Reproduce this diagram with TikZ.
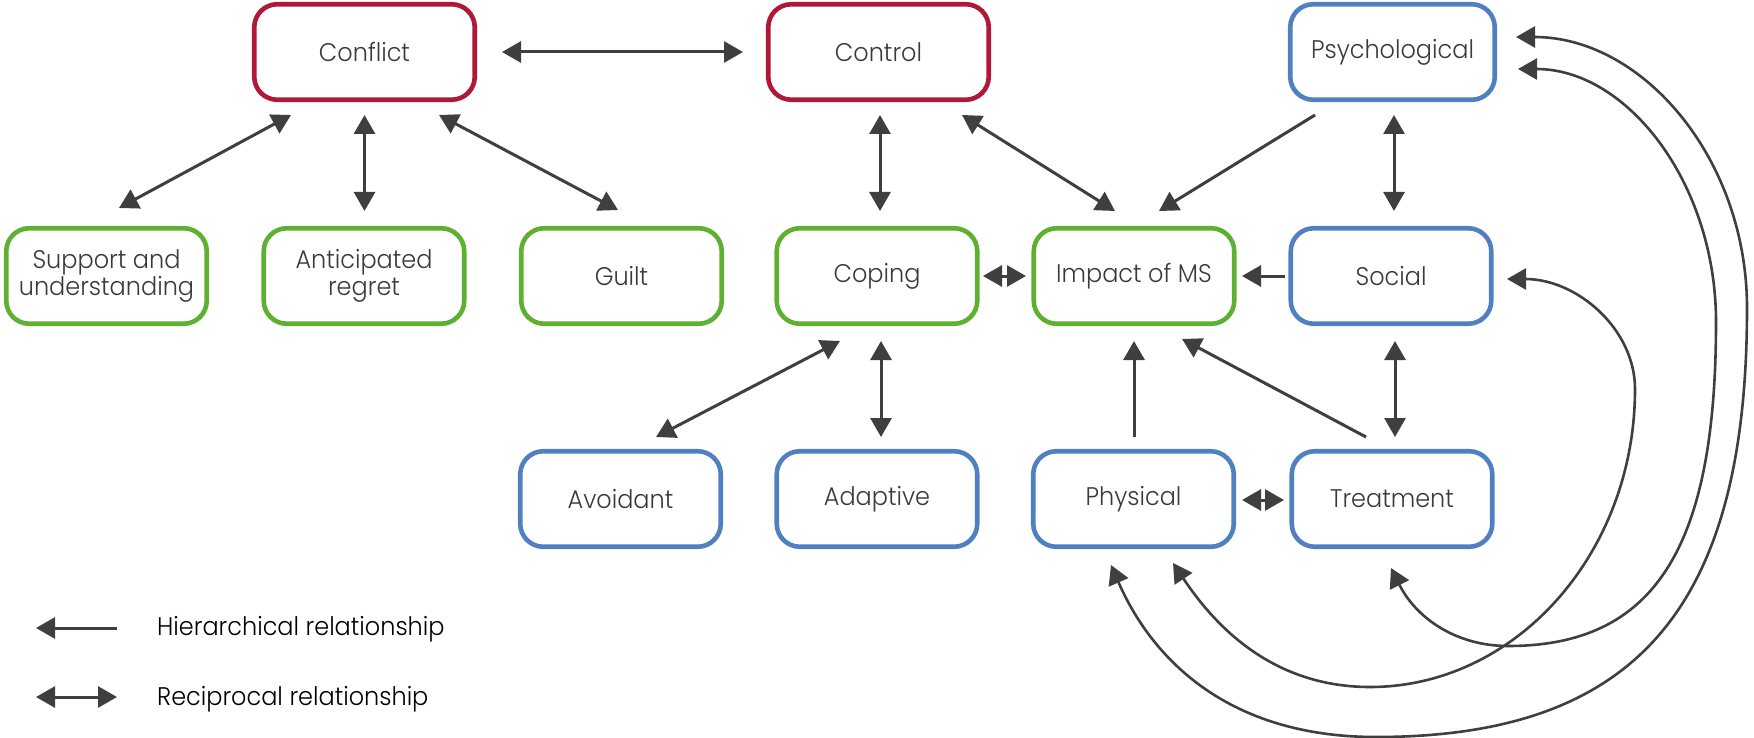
\documentclass[tikz,border=0pt]{standalone}
\usepackage{fontspec}
\setmainfont{Poppins Light}[FakeStretch=0.94]
\usetikzlibrary{arrows.meta,calc}
\definecolor{cred}{HTML}{AF1937}
\definecolor{cgreen}{HTML}{5EB032}
\definecolor{cblue}{HTML}{5080C0}
\definecolor{txt}{HTML}{3A3A3A}
\definecolor{arr}{HTML}{3F3F3F}
\tikzset{
  box/.style={draw, rounded corners=23pt, line width=4.6pt, minimum width=200.5pt,
    minimum height=95.5pt, inner sep=0pt, align=center, text=txt,
    font=\fontsize{25.5}{27}\selectfont},
  redbox/.style={box, draw=cred},
  greenbox/.style={box, draw=cgreen},
  bluebox/.style={box, draw=cblue},
  conn/.style={draw=arr, line width=3pt},
  curv/.style={draw=arr, line width=2.6pt},
  both/.style={{Triangle[length=19pt,width=21pt]}-{Triangle[length=19pt,width=21pt]}},
  single/.style={-{Triangle[length=19pt,width=21pt]}},
  legtext/.style={anchor=base west, text=black, font=\fontsize{25.5}{27}\selectfont, inner sep=0pt}
}
\begin{document}
\begin{tikzpicture}[x=1pt,y=-1pt]
\useasboundingbox (0,0) rectangle (1754,738);
% row 1
\node[redbox, minimum width=220.5pt] (conflict) at (364.5,52) {Conflict};
\node[redbox, minimum width=220.5pt] (control) at (878.5,52) {Control};
\node[bluebox, minimum width=204.5pt] (psych) at (1392.5,52) {Psychological};
% row 2
\node[greenbox] (support) at (106.5,276) {Support and\\understanding};
\node[greenbox] (anticip) at (364,276) {Anticipated\\regret};
\node[greenbox] (guilt) at (621.5,276) {Guilt};
\node[greenbox] (coping) at (877,276) {Coping};
\node[greenbox] (impact) at (1134,276) {Impact of MS};
\node[bluebox] (social) at (1391,276) {Social};
% row 3
\node[bluebox] (avoid) at (620.5,499) {Avoidant};
\node[bluebox] (adapt) at (877,499) {Adaptive};
\node[bluebox] (phys) at (1133.5,499) {Physical};
\node[bluebox] (treat) at (1392,499) {Treatment};

% straight connectors
\draw[conn,both] ($(conflict.center)+(137.5,0)$) -- ($(control.center)+(-135.5,0)$);
\draw[conn,both] ($(conflict.center)+(-73.5,63)$) -- ($(support.center)+(12.5,-68)$);
\draw[conn,both] ($(conflict.center)+(0,63)$) -- ($(anticip.center)+(0.5,-65)$);
\draw[conn,both] ($(conflict.center)+(74.5,63)$) -- ($(guilt.center)+(-3.5,-66)$);
\draw[conn,both] ($(control.center)+(1.5,63)$) -- ($(coping.center)+(3,-65)$);
\draw[conn,both] ($(control.center)+(83.5,63)$) -- ($(impact.center)+(-19,-65)$);
\draw[conn,single] ($(psych.center)+(-77.5,63)$) -- ($(impact.center)+(25,-65)$);
\draw[conn,both] ($(psych.center)+(1.5,63)$) -- ($(social.center)+(3,-65)$);
\draw[conn,both] ($(coping.center)+(106,0)$) -- ($(impact.center)+(-108,0)$);
\draw[conn,single] ($(social.center)+(-106,0)$) -- ($(impact.center)+(108,0)$);
\draw[conn,both] ($(coping.center)+(-37,65)$) -- ($(avoid.center)+(35.5,-62)$);
\draw[conn,both] ($(coping.center)+(4,65)$) -- ($(adapt.center)+(4,-62)$);
\draw[conn,single] ($(phys.center)+(0.5,-62)$) -- ($(impact.center)+(0,65)$);
\draw[conn,single] ($(treat.center)+(-26,-62)$) -- ($(impact.center)+(48,63)$);
\draw[conn,both] ($(social.center)+(4,65)$) -- ($(treat.center)+(3,-62)$);
\draw[conn,both] ($(phys.center)+(108.5,1)$) -- ($(treat.center)+(-108,1)$);

% curved connectors
\draw[curv,both] ($(phys.center)+(-22.5,66)$)
  .. controls (1151,657) and (1226,737) .. (1376,737)
  .. controls (1636,737) and (1747,608) .. (1747,308)
  .. controls (1747,159) and (1643,37) .. ($(psych.center)+(123.5,-15)$);
\draw[curv,both] ($(phys.center)+(39.5,64)$)
  .. controls (1213,623) and (1270,687) .. (1370,687)
  .. controls (1516,687) and (1635,553) .. (1635,389)
  .. controls (1635,329) and (1577,279) .. ($(social.center)+(116,3)$);
\draw[curv,both] ($(treat.center)+(-1,69)$)
  .. controls (1416,618) and (1456,646) .. (1508,646)
  .. controls (1654,646) and (1716,549) .. (1716,322)
  .. controls (1716,183) and (1627,69) .. ($(psych.center)+(125.5,17)$);

% legend
\node[legtext] (legh) at (157,635) {Hierarchical relationship};
\node[legtext] (legr) at (157,705) {Reciprocal relationship};
\coordinate (lh1) at ($(legh.base west)+(-40,-7)$);
\coordinate (lh2) at ($(legh.base west)+(-121,-7)$);
\coordinate (lr1) at ($(legr.base west)+(-40,-8)$);
\coordinate (lr2) at ($(legr.base west)+(-121,-8)$);
\draw[conn,single] (lh1) -- (lh2);
\draw[conn,both] (lr2) -- (lr1);
\end{tikzpicture}
\end{document}
